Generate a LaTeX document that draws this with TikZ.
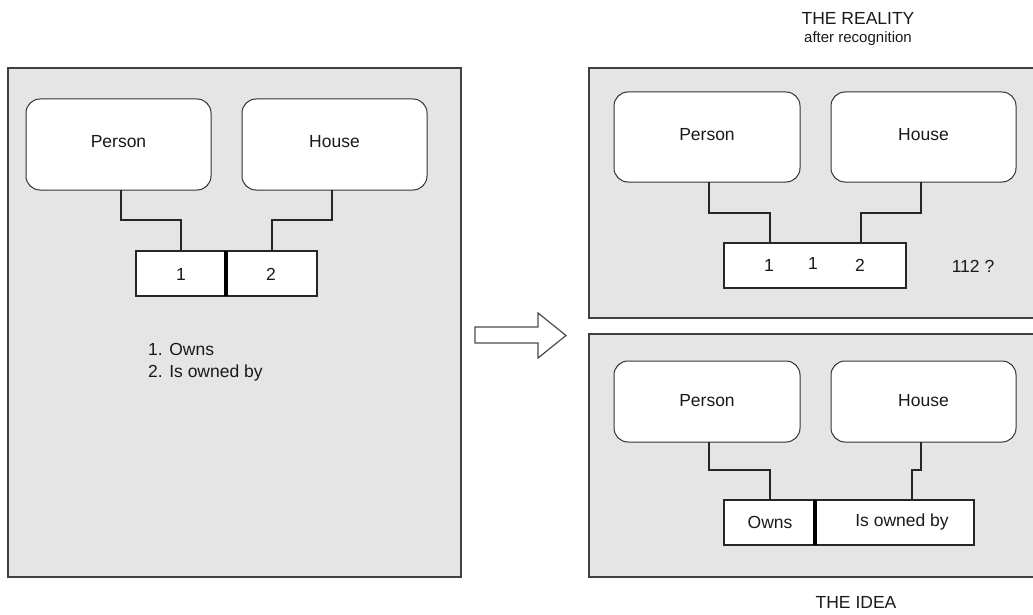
\documentclass[tikz,border=0pt]{standalone}
\usepackage{fontspec}
\setmainfont{Liberation Sans}
\begin{document}
\begin{tikzpicture}[x=1pt,y=-1pt,
  panel/.style={draw=black!75,fill=black!10,line width=1.3pt},
  entity/.style={draw=black!80,fill=white,line width=1pt,rounded corners=14pt},
  relbox/.style={draw=black!85,fill=white,line width=1.1pt},
  link/.style={draw=black!85,line width=1.1pt},
  divider/.style={line width=3.2pt,black},
  lbl/.style={font=\fontsize{17.5}{20}\selectfont,text=black!90,inner sep=0pt},
]
\useasboundingbox (0,0) rectangle (1033,615);

% ---- left panel: the idea with numbered roles
\draw[panel] (8,68) rectangle (461,577);
\draw[entity] (26,99) rectangle (211,190);
\draw[entity] (242,99) rectangle (427,190);
\node[lbl] (lperson) at (118.5,142) {Person};
\node[lbl] (lhouse) at (334.5,142) {House};
\draw[relbox] (136,251) rectangle (317,296);
\draw[divider] (226,251) -- (226,296);
\node[lbl] (lone) at (181,274) {1};
\node[lbl] (ltwo) at (271,274) {2};
\coordinate (lpb) at (121,190);
\coordinate (lhb) at (332,190);
\coordinate (lrl) at (181,251);
\coordinate (lrr) at (272,251);
\draw[link] (lpb) -- (121,220) -| (lrl);
\draw[link] (lhb) -- (332,220) -| (lrr);
\node[lbl,anchor=west] (own) at (148,349) {1. Owns};
\node[lbl,anchor=west] (owned) at (148,373) {2. Is owned by};

% ---- block arrow between the panels
\draw[draw=black!70,fill=white,line width=1.2pt,line join=miter]
  (475,327) -- (538,327) -- (538,313) -- (566,335.5) -- (538,358)
  -- (538,343) -- (475,343) -- cycle;

% ---- upper right panel
\node[lbl] (reality) at (858,18) {THE REALITY};
\node[lbl,font=\fontsize{15}{18}\selectfont] (after) at (858,39) {after recognition};
\draw[panel] (589,68) rectangle (1036,318);
\draw[entity] (614,92) rectangle (800,182);
\draw[entity] (831,92) rectangle (1016,182);
\node[lbl] (tperson) at (707,135) {Person};
\node[lbl] (thouse) at (923.5,135) {House};
\draw[relbox] (724,243) rectangle (906,288);
\node[lbl] (ta) at (769,265) {1};
\node[lbl] (tb) at (813,263) {1};
\node[lbl] (tc) at (860,265) {2};
\node[lbl] (tq) at (973,266) {112 ?};
\draw[link] (709,182) -- (709,213) -| (770,243);
\draw[link] (921,182) -- (921,213) -| (861,243);

% ---- lower right panel
\draw[panel] (589,334) rectangle (1036,577);
\draw[entity] (614,361) rectangle (800,442);
\draw[entity] (831,361) rectangle (1016,442);
\node[lbl] (bperson) at (707,401) {Person};
\node[lbl] (bhouse) at (923.5,401) {House};
\draw[relbox] (724,500) rectangle (974,545);
\draw[divider] (815,500) -- (815,545);
\node[lbl] (bown) at (770,522) {Owns};
\node[lbl] (bowned) at (902,522) {Is owned by};
\draw[link] (709,442) -- (709,470) -| (770,500);
\draw[link] (921,442) -- (921,470) -- (912,470) -- (912,500);
\node[lbl] (idea) at (856,602) {THE IDEA};
\end{tikzpicture}
\end{document}
